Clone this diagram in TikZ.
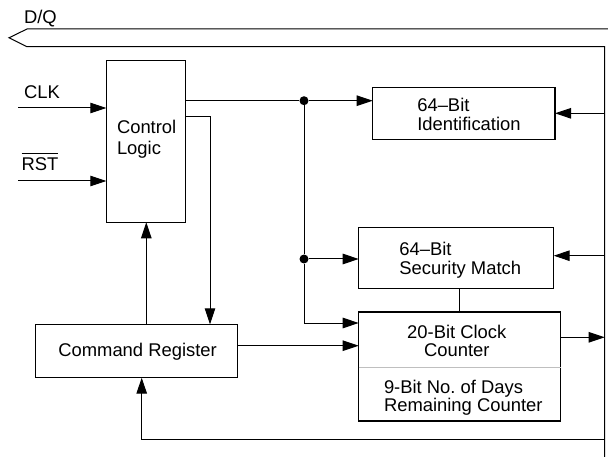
\documentclass[tikz,border=0pt]{standalone}
\usepackage{fontspec}
\setmainfont{Liberation Sans}
\usetikzlibrary{arrows.meta}
\frenchspacing
\newcommand{\txtlines}[2]{\begin{tabular}[t]{@{}#1@{}}#2\end{tabular}}
\tikzset{
  box/.style={draw, line width=1.1pt, inner sep=0pt, outer sep=0pt, rectangle},
  txt/.style={inner sep=0pt, outer sep=0pt, font=\fontsize{18.4}{17.5}\selectfont},
  wire/.style={line width=1pt},
  arr/.style={line width=1pt, -{Triangle[length=16pt,width=10.5pt]}},
  dotnode/.style={circle, fill, inner sep=0pt, minimum size=9pt},
  divider/.style={line width=1pt, black!25},
}
\begin{document}
\begin{tikzpicture}[x=1pt, y=-1pt]
\useasboundingbox (0,0) rectangle (608,457);
% boxes
\node[box, minimum width=79pt, minimum height=161.6pt] (cl) at (145.8,141.5) {};
\node[box, minimum width=202pt, minimum height=53.4pt] (cr) at (136.3,351) {};
\node[box, minimum width=182.3pt, minimum height=51.6pt] (id) at (463.85,113.5) {};
\node[box, minimum width=195pt, minimum height=61pt] (sm) at (456.2,257.8) {};
\node[box, minimum width=202pt, minimum height=109pt] (cc) at (459.7,366.5) {};
% texts
\node[txt, anchor=base west] (dq) at (24,24) {D/Q};
\node[txt, anchor=base west] (clkt) at (24,99) {CLK};
\node[txt, anchor=base west] (rstt) at (21.5,171) {\setbox0\hbox{RST}\rlap{\raisebox{16.8pt}{\rule{\wd0}{1pt}}}\box0};
\node[txt, anchor=base west] (clt) at (117,133.3) {\txtlines{l}{Control\\[2.5pt]Logic}};
\node[txt, anchor=base west] (idt) at (417.3,111.7) {\txtlines{l}{64–Bit\\Identification}};
\node[txt, anchor=base west] (smt) at (399.4,255.8) {\txtlines{l}{64–Bit\\Security Match}};
\node[txt, anchor=base] (cct) at (456.8,338.5) {\txtlines{c}{20-Bit Clock\\Counter}};
\node[txt, anchor=base west] (dayt) at (384,393) {\txtlines{l}{9-Bit No. of Days\\Remaining Counter}};
\node[txt, anchor=base] (crt) at (137.6,356.7) {Command Register};
% coordinates
\coordinate (busTR) at (608,29);
\coordinate (busTL) at (27,29);
\coordinate (busTip) at (9,37.8);
\coordinate (busBL) at (27,46.7);
\coordinate (busBR) at (604.7,46.7);
\coordinate (railB) at (604.7,457);
\coordinate (clkIn) at (18,108);
\coordinate (rstIn) at (18,181);
\coordinate (c2) at (210,117);
\coordinate (up1) at (146.3,0);
\coordinate (bend) at (304,323);
\coordinate (crOut) at (0,345.7);
\coordinate (link) at (459.3,0);
\coordinate (rID) at (604.7,113.3);
\coordinate (rSM) at (604.7,255.7);
\coordinate (rCC) at (604.7,337.3);
\coordinate (fbR) at (604.7,439);
\coordinate (fbL) at (141.7,439);
\coordinate (div) at (0,367);
% dots
\node[dotnode] (d1) at (304,100.7) {};
\node[dotnode] (d2) at (304,259) {};
% bus and rail
\draw[wire] (busTR) -- (busTL) -- (busTip) -- (busBL) -- (busBR) -- (railB);
% inputs
\draw[arr] (clkIn) -- (clkIn -| cl.west);
\draw[arr] (rstIn) -- (rstIn -| cl.west);
% control logic outputs
\draw[wire] (d1 -| cl.east) -- (d1);
\draw[arr] (d1) -- (d1 -| id.west);
\draw[wire] (d1) -- (d2);
\draw[arr] (d2) -- (d2 -| sm.west);
\draw[wire] (d2) -- (bend);
\draw[arr] (bend) -- (bend -| cc.west);
\draw[arr] (c2 -| cl.east) -- (c2) -- (c2 |- cr.north);
% command register
\draw[arr] (up1 |- cr.north) -- (up1 |- cl.south);
\draw[arr] (crOut -| cr.east) -- (crOut -| cc.west);
% security to clock link
\draw[wire] (link |- sm.south) -- (link |- cc.north);
\draw[divider] (div -| cc.west) -- (div -| cc.east);
% right rail
\draw[arr] (rID) -- (rID -| id.east);
\draw[arr] (rSM) -- (rSM -| sm.east);
\draw[arr] (rCC -| cc.east) -- (rCC);
\draw[arr] (fbR) -- (fbL) -- (fbL |- cr.south);
\end{tikzpicture}
\end{document}
